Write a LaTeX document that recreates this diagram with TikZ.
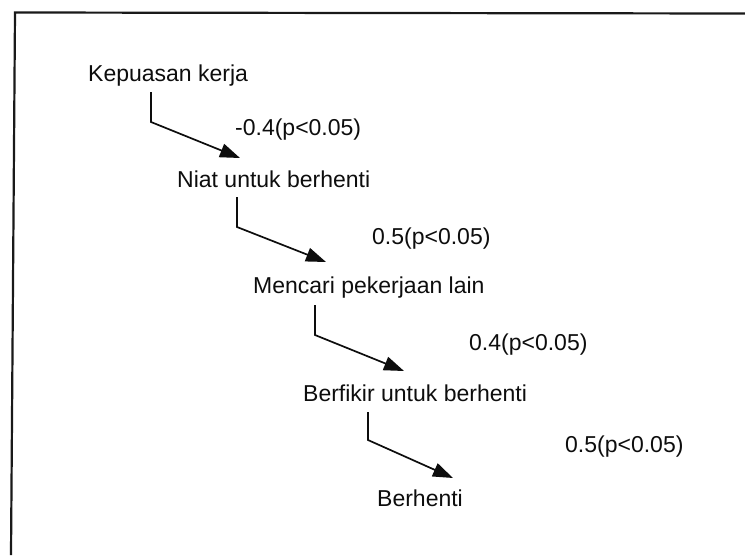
\documentclass[tikz,border=0pt]{standalone}
\usepackage{fontspec}
\setmainfont{Liberation Sans}
\usetikzlibrary{arrows.meta,calc}
\begin{document}
\begin{tikzpicture}[x=1pt,y=-1pt,
  lbl/.style={anchor=base west,inner sep=0pt,font=\fontsize{23}{27}\selectfont,text=black!95},
  conn/.style={line width=1.7pt,draw=black!95,-{Triangle[length=20pt,width=14pt]}},
  frameline/.style={line width=2.2pt,draw=black!90}]
\useasboundingbox (0,0) rectangle (745,555);
\draw[frameline] (11,555) -- (15,12.5) -- (745,13.5);
% nodes
\node[lbl] (n1) at (88,81)  {Kepuasan kerja};
\node[lbl] (n2) at (177,187) {Niat untuk berhenti};
\node[lbl] (n3) at (253,293) {Mencari pekerjaan lain};
\node[lbl] (n4) at (303,401) {Berfikir untuk berhenti};
\node[lbl] (n5) at (377,506) {Berhenti};
% coefficient labels
\node[lbl] (c1) at (235,135) {-0.4(p<0.05)};
\node[lbl] (c2) at (372,244) {0.5(p<0.05)};
\node[lbl] (c3) at (469,350) {0.4(p<0.05)};
\node[lbl] (c4) at (565,452) {0.5(p<0.05)};
% connector points
\coordinate (s1) at ($(n1.base west)+(63,11)$);
\coordinate (b1) at ($(s1)+(0,30)$);
\coordinate (t1) at ($(n2.base west)+(63,-29)$);
\coordinate (s2) at ($(n2.base west)+(60,10)$);
\coordinate (b2) at ($(s2)+(0,30)$);
\coordinate (t2) at ($(n3.base west)+(73,-31)$);
\coordinate (s3) at ($(n3.base west)+(62,12)$);
\coordinate (b3) at ($(s3)+(0,30)$);
\coordinate (t3) at ($(n4.base west)+(101,-30)$);
\coordinate (s4) at ($(n4.base west)+(65,11)$);
\coordinate (b4) at ($(s4)+(0,28)$);
\coordinate (t4) at ($(n5.base west)+(76,-28)$);
\draw[conn] (s1) -- (b1) -- (t1);
\draw[conn] (s2) -- (b2) -- (t2);
\draw[conn] (s3) -- (b3) -- (t3);
\draw[conn] (s4) -- (b4) -- (t4);
\end{tikzpicture}
\end{document}
